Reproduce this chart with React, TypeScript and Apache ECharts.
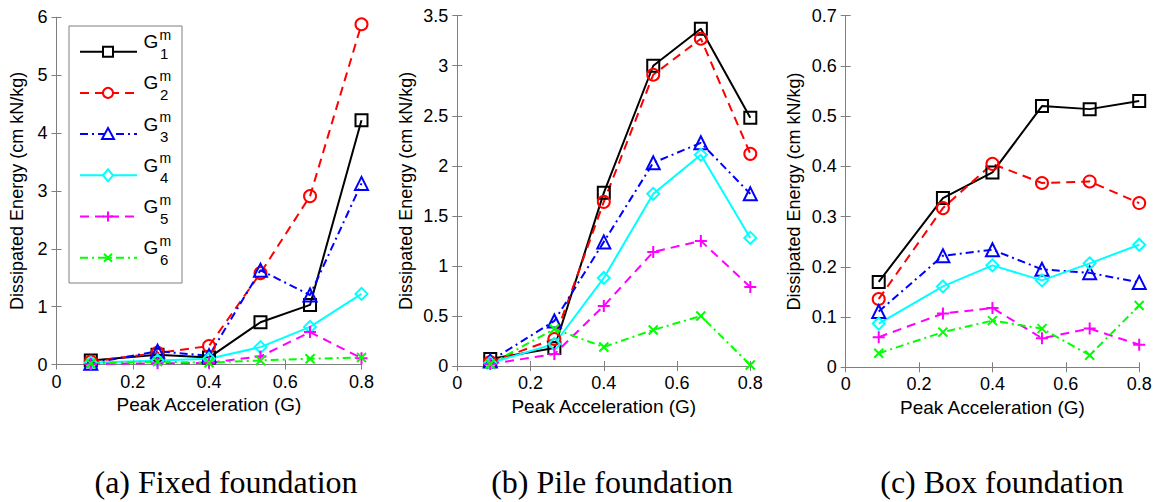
import React, { useEffect, useRef } from "react";
import * as echarts from "echarts";

const peakAcc = [0.09, 0.265, 0.4, 0.535, 0.665, 0.8];
const seriesNames = ["G1", "G2", "G3", "G4", "G5", "G6"];

const fixedG1 = [0.07, 0.17, 0.12, 0.73, 1.03, 4.22];
const fixedG2 = [0.05, 0.2, 0.32, 1.58, 2.91, 5.88];
const fixedG3 = [0.02, 0.23, 0.15, 1.63, 1.2, 3.13];
const fixedG4 = [0.03, 0.07, 0.1, 0.3, 0.65, 1.22];
const fixedG5 = [0.01, 0.02, 0.03, 0.14, 0.56, 0.11];
const fixedG6 = [0.02, 0.05, 0.03, 0.07, 0.1, 0.12];

const pileG1 = [0.07, 0.18, 1.73, 3.0, 3.37, 2.48];
const pileG2 = [0.04, 0.27, 1.64, 2.91, 3.27, 2.12];
const pileG3 = [0.05, 0.45, 1.24, 2.03, 2.23, 1.72];
const pileG4 = [0.03, 0.22, 0.88, 1.72, 2.11, 1.28];
const pileG5 = [0.02, 0.12, 0.6, 1.14, 1.25, 0.79];
const pileG6 = [0.02, 0.37, 0.19, 0.36, 0.5, 0.01];

const boxG1 = [0.17, 0.337, 0.388, 0.52, 0.514, 0.53];
const boxG2 = [0.136, 0.317, 0.405, 0.367, 0.37, 0.327];
const boxG3 = [0.111, 0.222, 0.234, 0.195, 0.188, 0.169];
const boxG4 = [0.087, 0.161, 0.203, 0.173, 0.207, 0.244];
const boxG5 = [0.06, 0.107, 0.118, 0.058, 0.077, 0.045];
const boxG6 = [0.028, 0.07, 0.093, 0.077, 0.024, 0.123];

const panelCaptions = ["(a) Fixed foundation", "(b) Pile foundation", "(c) Box foundation"];
const yMaxes = [6, 3.5, 0.7];
const yIntervals = [1, 0.5, 0.1];
const xTitle = "Peak Acceleration (G)";
const yTitle = "Dissipated Energy (cm kN/kg)";

const panels = [
  [fixedG1, fixedG2, fixedG3, fixedG4, fixedG5, fixedG6],
  [pileG1, pileG2, pileG3, pileG4, pileG5, pileG6],
  [boxG1, boxG2, boxG3, boxG4, boxG5, boxG6],
];

const colors = ["#000000", "#ff0000", "#0000ff", "#00ffff", "#ff00ff", "#00ff00"];
const dashDot = [8, 4, 2, 4];
const lineTypes: any[] = ["solid", [9, 6], dashDot, "solid", [9, 6], dashDot];
const plusPath = "path://M0,5L10,5M5,0L5,10";
const crossPath = "path://M1,1L9,9M9,1L1,9";
const symbols = ["rect", "circle", "triangle", "diamond", plusPath, crossPath];
const symbolSizes = [12, 12, 13, 12, 12, 9];

const grids = [
  { left: 56.5, top: 17.3, width: 305, height: 347.2 },
  { left: 457.3, top: 15.7, width: 293, height: 350.3 },
  { left: 845.7, top: 15.7, width: 293.5, height: 351.6 },
];
const yNameGaps = [31, 42, 43];
const captionX = [226, 612, 1002];

const font = "'Liberation Sans', Arial, sans-serif";
const axisGray = "#7f7f7f";

export default function App() {
  const ref = useRef<HTMLDivElement>(null);
  useEffect(() => {
    if (!ref.current) return;
    const chart = echarts.init(ref.current, null, { renderer: "svg" });

    const xAxes: any[] = [];
    const yAxes: any[] = [];
    const series: any[] = [];

    grids.forEach((g, p) => {
      const common = {
        gridIndex: p,
        type: "value",
        axisLine: { show: true, lineStyle: { color: axisGray, width: 1 } },
        axisTick: { show: true, inside: true, length: 5, lineStyle: { color: axisGray } },
        splitLine: { show: false },
      };
      xAxes.push({
        ...common,
        position: "bottom",
        min: 0,
        max: 0.8,
        interval: 0.2,
        axisLabel: { color: "#000", fontSize: 18, fontFamily: font, margin: 8 },
        name: xTitle,
        nameLocation: "middle",
        nameGap: 29,
        nameTextStyle: { color: "#000", fontSize: 19, fontFamily: font, verticalAlign: "top" },
      });
      xAxes.push({
        ...common,
        position: "top",
        min: 0,
        max: 0.8,
        interval: 0.2,
        axisLabel: { show: false },
      });
      yAxes.push({
        ...common,
        position: "left",
        min: 0,
        max: yMaxes[p],
        interval: yIntervals[p],
        axisLabel: { color: "#000", fontSize: 18, fontFamily: font, margin: 9 },
        name: yTitle,
        nameLocation: "middle",
        nameRotate: 90,
        nameGap: yNameGaps[p],
        nameTextStyle: { color: "#000", fontSize: 18, fontFamily: font, verticalAlign: "bottom" },
      });
      yAxes.push({
        ...common,
        position: "right",
        min: 0,
        max: yMaxes[p],
        interval: yIntervals[p],
        axisLabel: { show: false },
      });

      panels[p].forEach((vals, s) => {
        series.push({
          type: "line",
          name: seriesNames[s],
          xAxisIndex: p * 2,
          yAxisIndex: p * 2,
          data: peakAcc.map((x, i) => [x, vals[i]]),
          symbol: symbols[s],
          symbolSize: symbolSizes[s],
          showAllSymbol: true,
          clip: false,
          lineStyle: { color: colors[s], width: 2, type: lineTypes[s] },
          itemStyle: { color: "none", borderColor: colors[s], borderWidth: 2 },
          emphasis: { disabled: true },
        });
      });
    });

    const legendEls: any[] = [];
    legendEls.push({
      type: "rect",
      shape: { x: 69, y: 26, width: 113, height: 257 },
      style: { fill: "#fff", stroke: axisGray, lineWidth: 1 },
      z: 100,
    });
    seriesNames.forEach((n, i) => {
      const ry = 51.7 + i * 41.2;
      const c = colors[i];
      const lt = lineTypes[i];
      legendEls.push({
        type: "line",
        shape: { x1: 80, y1: ry, x2: 137, y2: ry },
        style: { stroke: c, lineWidth: 2, lineDash: Array.isArray(lt) ? lt : null },
        z: 101,
      });
      const mx = 108;
      const ms: any = { stroke: c, lineWidth: 2, fill: "#fff" };
      let m: any;
      if (i === 0) m = { type: "rect", shape: { x: mx - 5, y: ry - 5, width: 10, height: 10 }, style: ms };
      else if (i === 1) m = { type: "circle", shape: { cx: mx, cy: ry, r: 5 }, style: ms };
      else if (i === 2)
        m = { type: "polygon", shape: { points: [[mx, ry - 6], [mx + 6, ry + 5], [mx - 6, ry + 5]] }, style: ms };
      else if (i === 3)
        m = { type: "polygon", shape: { points: [[mx, ry - 6], [mx + 5, ry], [mx, ry + 6], [mx - 5, ry]] }, style: ms };
      else if (i === 4)
        m = { type: "polyline", shape: { points: [[mx - 5, ry], [mx + 5, ry], [mx, ry], [mx, ry - 5], [mx, ry + 5]] }, style: { stroke: c, lineWidth: 2, fill: null } };
      else
        m = { type: "polyline", shape: { points: [[mx - 4, ry - 4], [mx + 4, ry + 4], [mx, ry], [mx + 4, ry - 4], [mx - 4, ry + 4]] }, style: { stroke: c, lineWidth: 2, fill: null } };
      m.z = 102;
      legendEls.push(m);
      legendEls.push({
        type: "text",
        x: 143.5,
        y: ry - 10,
        style: { text: "G", fontSize: 19, fontFamily: font, fill: "#000", verticalAlign: "middle", align: "left" },
        z: 102,
      });
      legendEls.push({
        type: "text",
        x: 159.5,
        y: ry - 17,
        style: { text: "m", fontSize: 14, fontFamily: font, fill: "#000", verticalAlign: "middle", align: "left" },
        z: 102,
      });
      legendEls.push({
        type: "text",
        x: 160,
        y: ry + 2,
        style: { text: String(i + 1), fontSize: 15, fontFamily: font, fill: "#000", verticalAlign: "middle", align: "left" },
        z: 102,
      });
    });

    const captionEls = panelCaptions.map((t, i) => ({
      type: "text",
      x: captionX[i],
      y: 482,
      style: {
        text: t,
        fontSize: 32,
        fontFamily: "'Liberation Serif', 'Times New Roman', serif",
        fill: "#000",
        align: "center",
        verticalAlign: "middle",
      },
    }));

    chart.setOption({
      animation: false,
      backgroundColor: "#fff",
      grid: grids.map((g) => ({ ...g, containLabel: false })),
      xAxis: xAxes,
      yAxis: yAxes,
      series,
      graphic: [...legendEls, ...captionEls],
    });
    return () => chart.dispose();
  }, []);
  return (
    <div
      ref={ref}
      style={{ position: "absolute", left: 0, top: 0, width: 1161, height: 502, background: "#fff" }}
    />
  );
}
